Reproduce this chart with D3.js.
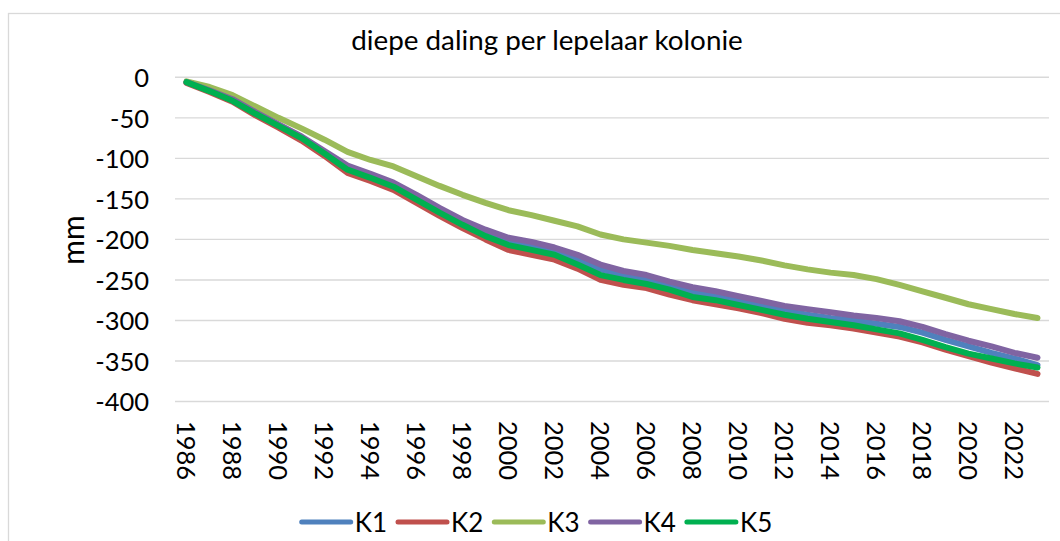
<!DOCTYPE html>
<html>
<head>
<meta charset="utf-8">
<script src="https://cdn.jsdelivr.net/npm/d3@7"></script>
<style>
  html, body { margin: 0; padding: 0; background: #fff; }
  svg { display: block; }
  text { font-family: Lato, "Open Sans", sans-serif; fill: #000; }
</style>
</head>
<body>
<svg id="chart" width="1060" height="541"></svg>
<script>
const title = "diepe daling per lepelaar kolonie";
const yTitle = "mm";
const years = d3.range(1986, 2024);
const yTicks = [0, -50, -100, -150, -200, -250, -300, -350, -400];
const xTickLabels = years.filter(y => (y - 1986) % 2 === 0);
const seriesNames = ["K1", "K2", "K3", "K4", "K5"];
const seriesColors = ["#4F81BD", "#C0504D", "#9BBB59", "#8064A2", "#00B050"];

const K1 = [-6,-16,-28,-44,-59,-74,-93,-112,-122,-133,-148,-164,-179,-192,-203,-208,-214,-225,-237,-244,-249,-257,-265,-269,-275,-281,-288,-293,-297,-300,-304,-308,-315,-324,-332,-340,-347,-355];
const K2 = [-7,-18,-30,-47,-62,-78,-97,-118,-128,-139,-155,-171,-186,-200,-213,-219,-225,-236,-250,-256,-260,-268,-275,-280,-285,-291,-298,-303,-306,-310,-315,-320,-327,-336,-344,-352,-359,-366];
const K3 = [-5,-12,-22,-36,-50,-63,-77,-92,-102,-110,-122,-134,-145,-155,-164,-170,-177,-184,-194,-200,-204,-208,-213,-217,-221,-226,-232,-237,-241,-244,-249,-256,-264,-272,-280,-286,-292,-297];
const K4 = [-6,-16,-27,-43,-58,-73,-91,-109,-119,-130,-145,-161,-176,-188,-198,-203,-210,-219,-231,-239,-244,-252,-259,-264,-270,-276,-282,-286,-290,-294,-297,-301,-308,-317,-325,-332,-340,-346];
const K5 = [-6,-17,-29,-45,-60,-75,-94,-114,-124,-135,-151,-167,-182,-196,-207,-213,-219,-231,-244,-250,-255,-262,-271,-275,-281,-287,-293,-298,-302,-306,-311,-316,-324,-333,-341,-347,-353,-358];
const seriesValues = [K1, K2, K3, K4, K5];

const svg = d3.select("#chart");

// chart area border
svg.append("rect")
  .attr("x", 8.5).attr("y", 13.5)
  .attr("width", 1100).attr("height", 600)
  .attr("fill", "#fff").attr("stroke", "#D9D9D9").attr("stroke-width", 1.3);

const x = d3.scaleBand().domain(years).range([175, 1049]);
const xc = yr => x(yr) + x.bandwidth() / 2;
const y = d3.scaleLinear().domain([-400, 0]).range([401.5, 77.3]);

// gridlines
svg.append("g").selectAll("line").data(yTicks).join("line")
  .attr("x1", 175).attr("x2", 1049)
  .attr("y1", d => y(d)).attr("y2", d => y(d))
  .attr("stroke", "#D9D9D9").attr("stroke-width", 1.4);

// y axis labels
const yAxis = d3.axisLeft(y).tickValues(yTicks).tickSize(0).tickPadding(0)
  .tickFormat(d => d3.format("d")(d).replace("−", "-"));
const gy = svg.append("g").attr("transform", "translate(149,0)").call(yAxis);
gy.select(".domain").remove();
gy.selectAll("text").attr("font-size", 25.5).attr("font-family", "Lato, sans-serif")
  .attr("fill", "#000").attr("dy", "0.36em").attr("text-anchor", "end");

// x axis labels (rotated)
const xAxis = d3.axisBottom(x).tickValues(xTickLabels).tickSize(0).tickPadding(0);
const gx = svg.append("g").attr("transform", "translate(0,421)").call(xAxis);
gx.select(".domain").remove();
gx.selectAll("text")
  .attr("font-size", 25.5).attr("font-family", "Lato, sans-serif").attr("fill", "#000")
  .attr("y", 0).attr("dy", "0.36em")
  .attr("text-anchor", "start")
  .attr("transform", "rotate(90)");
gx.selectAll(".tick text").attr("x", 0);

// y title
svg.append("text")
  .attr("transform", "translate(73,240) rotate(-90)")
  .attr("text-anchor", "middle").attr("dy", "0.36em")
  .attr("font-size", 30).text(yTitle);

// title
svg.append("text")
  .attr("x", 547).attr("y", 50)
  .attr("text-anchor", "middle")
  .attr("font-size", 27.8).text(title);

// lines
const line = d3.line().x((d, i) => xc(years[i])).y(d => y(d));
svg.append("g").selectAll("path").data(seriesValues).join("path")
  .attr("d", d => line(d))
  .attr("fill", "none")
  .attr("stroke", (d, i) => seriesColors[i])
  .attr("stroke-width", 6)
  .attr("stroke-linejoin", "round")
  .attr("stroke-linecap", "round");

// legend
const lg = svg.append("g").selectAll("g").data(seriesNames).join("g")
  .attr("transform", (d, i) => `translate(${301.7 + i * 96.3},522)`);
lg.append("line")
  .attr("x1", 0).attr("x2", 49).attr("y1", 0).attr("y2", 0)
  .attr("stroke", (d, i) => seriesColors[i])
  .attr("stroke-width", 5).attr("stroke-linecap", "round");
lg.append("text")
  .attr("x", 53).attr("y", 9.5)
  .attr("font-size", 26).text(d => d);
</script>
</body>
</html>
